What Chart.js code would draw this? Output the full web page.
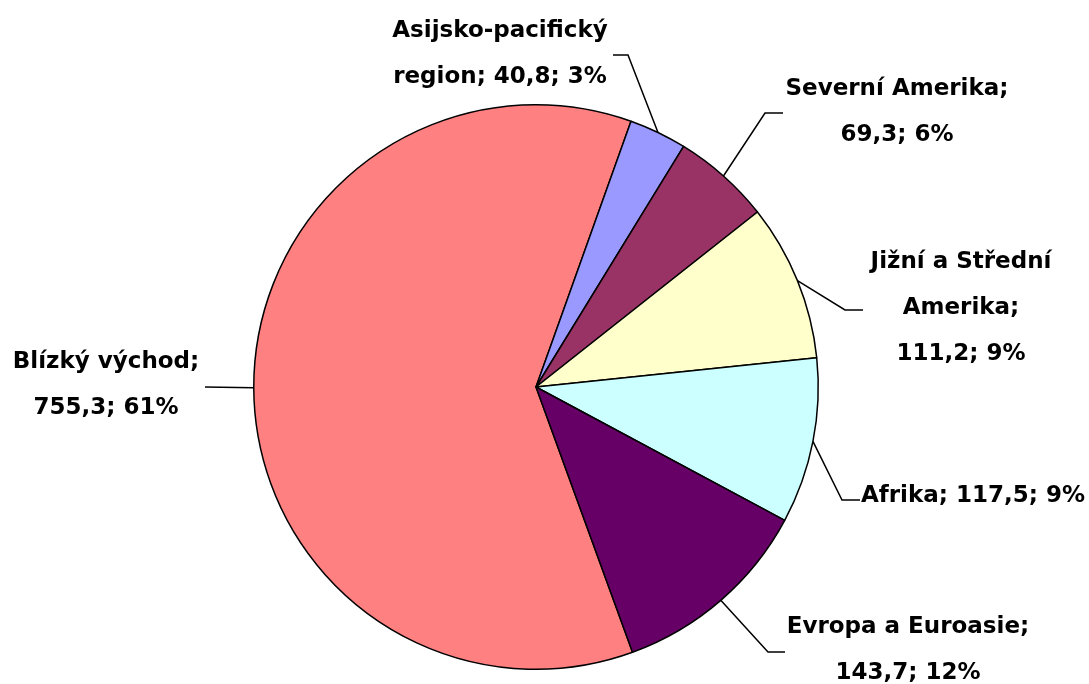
<!DOCTYPE html>
<html>
<head>
<meta charset="utf-8">
<script src="https://cdn.jsdelivr.net/npm/chart.js@4.4.1/dist/chart.umd.min.js"></script>
<style>
  html, body { margin: 0; padding: 0; background: #fff; }
  canvas { display: block; }
</style>
</head>
<body>
<canvas id="pieChart" width="1089" height="684"></canvas>
<script>
// data, clockwise from the big slice
const categories = ["Blízký východ", "Asijsko-pacifický\nregion", "Severní Amerika", "Jižní a Střední\nAmerika", "Afrika", "Evropa a Euroasie"];
const values = [755.3, 40.8, 69.3, 111.2, 117.5, 143.7];
const valueOnNewLine = [true, false, true, true, false, true];
const sliceColors = ["#FF8080", "#9999FF", "#993366", "#FFFFCC", "#CCFFFF", "#660066"];

// label placement: elbow of leader, end of short horizontal, text centre x, first baseline
const labelLayout = [
  { elbow: [205, 387], end: 205, textX: 106, baseY: 368 },
  { elbow: [628, 55], end: 613, textX: 500, baseY: 37 },
  { elbow: [765, 113], end: 783, textX: 897, baseY: 95 },
  { elbow: [845, 310], end: 863, textX: 961, baseY: 268 },
  { elbow: [842, 500], end: 860, textX: 973, baseY: 502 },
  { elbow: [768, 652], end: 785, textX: 908, baseY: 633 },
];
const lineGap = 46;

const total = values.reduce((s, v) => s + v, 0);

function labelLines(i) {
  const val = values[i].toFixed(1).replace(".", ",");
  const pct = Math.round(values[i] / total * 100);
  const sep = valueOnNewLine[i] ? "\n" : " ";
  return (categories[i] + ";" + sep + val + "; " + pct + "%").split("\n");
}

const outsideLabels = {
  id: "outsideLabels",
  afterDatasetsDraw(chart) {
    const ctx = chart.ctx;
    const arcs = chart.getDatasetMeta(0).data;
    ctx.save();
    ctx.strokeStyle = "#000";
    ctx.lineWidth = 1.5;
    ctx.fillStyle = "#000";
    ctx.font = "bold 23px 'DejaVu Sans'";
    ctx.textAlign = "center";
    ctx.textBaseline = "alphabetic";
    arcs.forEach((arc, i) => {
      const mid = (arc.startAngle + arc.endAngle) / 2;
      const sx = arc.x + Math.cos(mid) * arc.outerRadius;
      const sy = arc.y + Math.sin(mid) * arc.outerRadius;
      const lay = labelLayout[i];
      ctx.beginPath();
      ctx.moveTo(sx, sy);
      ctx.lineTo(lay.elbow[0], lay.elbow[1]);
      ctx.lineTo(lay.end, lay.elbow[1]);
      ctx.stroke();
      labelLines(i).forEach((line, k) => {
        ctx.fillText(line, lay.textX, lay.baseY + k * lineGap);
      });
    });
    ctx.restore();
  }
};

new Chart(document.getElementById("pieChart"), {
  type: "pie",
  data: {
    labels: categories,
    datasets: [{
      data: values,
      backgroundColor: sliceColors,
      borderColor: "#000",
      borderWidth: 1.5,
    }],
  },
  options: {
    responsive: false,
    animation: false,
    rotation: 160,
    layout: { padding: { left: 253, right: 270, top: 104, bottom: 14 } },
    plugins: {
      legend: { display: false },
      tooltip: { enabled: false },
    },
  },
  plugins: [outsideLabels],
});
</script>
</body>
</html>
